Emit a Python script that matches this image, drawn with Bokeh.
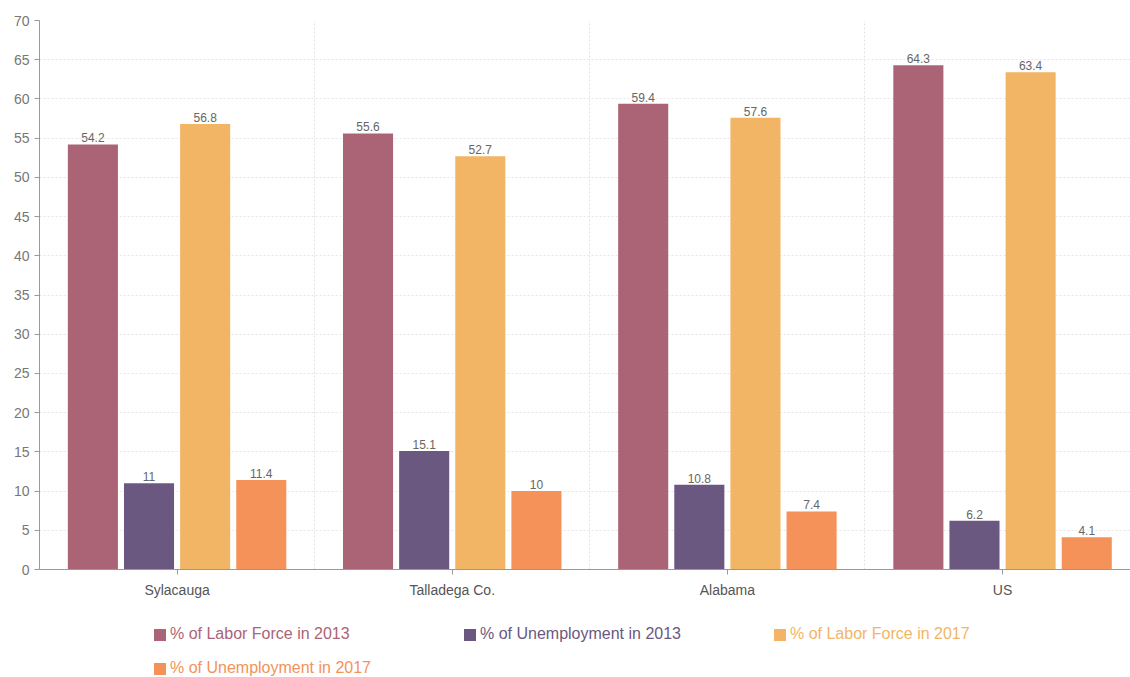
from bokeh.plotting import figure
from bokeh.layouts import column
from bokeh.models import (ColumnDataSource, Range1d, FixedTicker, Legend, LegendItem)
from bokeh.core.properties import value
from bokeh.embed import file_html
from bokeh.resources import INLINE

categories = ["Sylacauga", "Talladega Co.", "Alabama", "US"]
series_names = ["% of Labor Force in 2013", "% of Unemployment in 2013",
                "% of Labor Force in 2017", "% of Unemployment in 2017"]
labor_2013 = [54.2, 55.6, 59.4, 64.3]
unemp_2013 = [11, 15.1, 10.8, 6.2]
labor_2017 = [56.8, 52.7, 57.6, 63.4]
unemp_2017 = [11.4, 10, 7.4, 4.1]
y_ticks = [0, 5, 10, 15, 20, 25, 30, 35, 40, 45, 50, 55, 60, 65, 70]

colors = ["#ab6475", "#6b5880", "#f2b565", "#f4925a"]
offsets = [-0.306, -0.102, 0.102, 0.306]
bar_w = 0.182
FONT = "Liberation Sans"

p = figure(width=1130, height=610, output_backend="svg", toolbar_location=None,
           x_range=Range1d(0, 3.965), y_range=Range1d(0, 70),
           min_border_left=39, min_border_right=0, min_border_top=20,
           min_border_bottom=41, outline_line_color=None)

centers = [i + 0.5 for i in range(len(categories))]
all_series = [labor_2013, unemp_2013, labor_2017, unemp_2017]
for vals, col, off in zip(all_series, colors, offsets):
    src = ColumnDataSource(dict(x=[c + off for c in centers], top=vals,
                                lab=[f"{v:g}" for v in vals]))
    p.vbar(x="x", top="top", width=bar_w, source=src, fill_color=col,
           line_color=None)
    p.text(x="x", y="top", text="lab", source=src, text_align="center",
           text_baseline="bottom", y_offset=-2, text_font=value(FONT),
           text_font_size="12px", text_color="#666666")

# axes
p.xaxis.ticker = FixedTicker(ticks=centers)
p.xaxis.major_label_overrides = {c: n for c, n in zip(centers, categories)}
p.xaxis.major_tick_in = 0
p.xaxis.major_tick_out = 5
p.xaxis.minor_tick_line_color = None
p.xaxis.axis_line_color = "#999999"
p.xaxis.major_tick_line_color = "#999999"
p.xaxis.major_label_standoff = 7
p.xaxis.major_label_text_font = FONT
p.xaxis.major_label_text_font_size = "14px"
p.xaxis.major_label_text_color = "#555555"

p.yaxis.ticker = FixedTicker(ticks=y_ticks)
p.yaxis.major_tick_in = 0
p.yaxis.major_tick_out = 5
p.yaxis.minor_tick_line_color = None
p.yaxis.axis_line_color = "#999999"
p.yaxis.major_tick_line_color = "#999999"
p.yaxis.major_label_standoff = 5
p.yaxis.major_label_text_font = FONT
p.yaxis.major_label_text_font_size = "14px"
p.yaxis.major_label_text_color = "#777777"

# grids
p.xgrid.ticker = FixedTicker(ticks=[1, 2, 3])
p.xgrid.grid_line_color = "#e2e2e2"
p.xgrid.grid_line_dash = "2 2"
p.ygrid.ticker = FixedTicker(ticks=y_ticks)
p.ygrid.grid_line_color = "#e6e6e6"
p.ygrid.grid_line_dash = "2 2"

# legend panel: a separate frameless figure, one legend per item so each
# label takes its series colour
leg = figure(width=1130, height=67, output_backend="svg", toolbar_location=None,
             x_range=Range1d(0, 1), y_range=Range1d(0, 1),
             x_axis_location=None, y_axis_location=None,
             min_border=0, outline_line_color=None)
leg.grid.visible = False
legend_pos = [(113, 34), (423, 34), (733, 34), (113, 0)]
for name, col, loc in zip(series_names, colors, legend_pos):
    # zero-size swatch renderer used only for the legend glyph
    dummy = leg.vbar(x=[0.5], top=[0.5], bottom=[0.5], width=0,
                     fill_color=col, line_color=None)
    lg = Legend(items=[LegendItem(label=name, renderers=[dummy])], location=loc,
                padding=0, margin=0, border_line_color=None,
                background_fill_alpha=0, glyph_width=15, glyph_height=15,
                label_standoff=3, label_text_font=FONT,
                label_text_font_size="16px", label_text_color=col,
                label_height=15)
    leg.add_layout(lg, "center")

open("out.html", "w").write(file_html(column(p, leg, spacing=0), INLINE))
